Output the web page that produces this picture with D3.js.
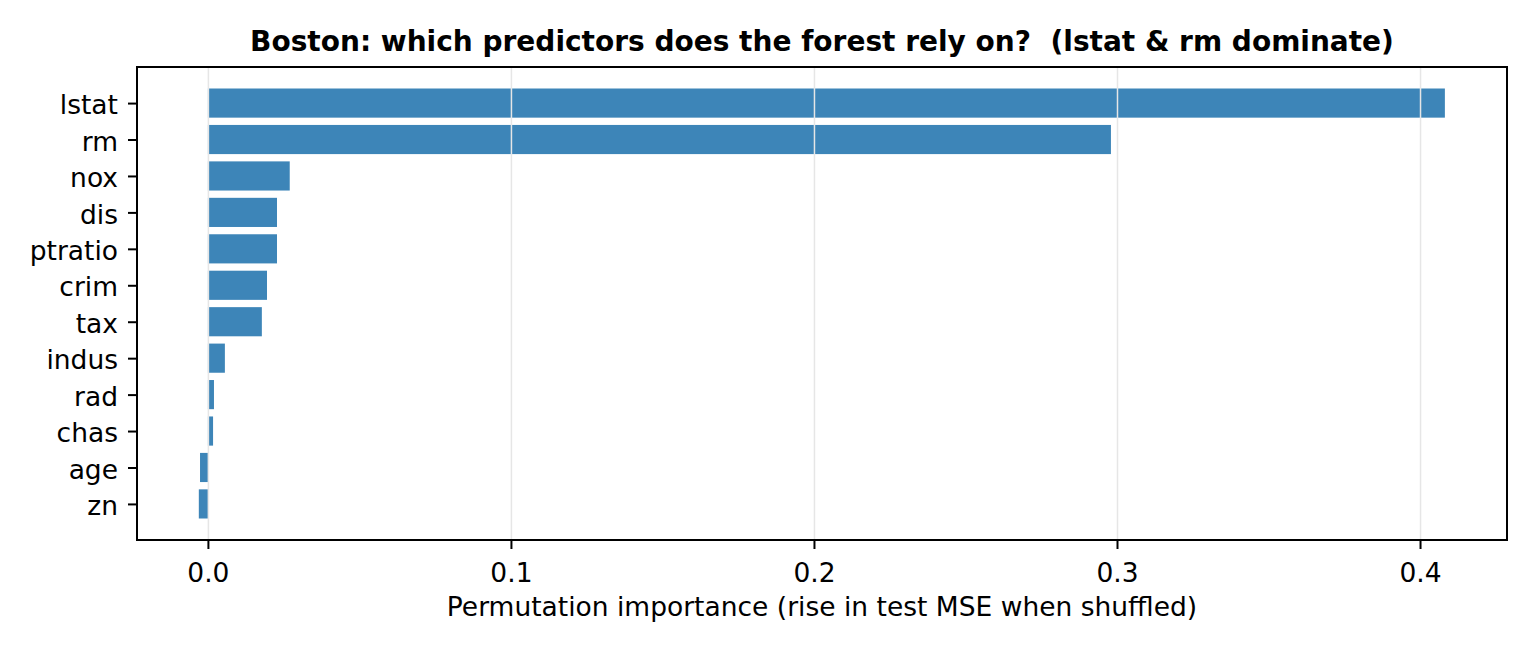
<!DOCTYPE html>
<html>
<head>
<meta charset="utf-8">
<script src="https://cdn.jsdelivr.net/npm/d3@7"></script>
<style>
  body { margin: 0; background: #fff; }
  text { font-family: "DejaVu Sans", sans-serif; fill: #000; }
</style>
</head>
<body>
<div id="chart"></div>
<script>
// predictors, bottom to top
const features = ["zn", "age", "chas", "rad", "indus", "tax", "crim", "ptratio", "dis", "nox", "rm", "lstat"];
const importance = [-0.0030, -0.0026, 0.0017, 0.0020, 0.0056, 0.0178, 0.0195, 0.0228, 0.0228, 0.0270, 0.2980, 0.4082];
const xTicks = [0.0, 0.1, 0.2, 0.3, 0.4];

const width = 1536;
const height = 652;
const margin = ({top: 67, right: 29, bottom: 112, left: 137});

const svg = d3.select("#chart")
    .append("svg")
    .attr("width", width)
    .attr("height", height);

const x = d3.scaleLinear()
    .domain([-0.0234, 0.4287])
    .range([margin.left, width - margin.right]);

// matplotlib style margins round the bar positions
const y = d3.scaleLinear()
    .domain([-0.99, features.length - 1 + 0.99])
    .range([height - margin.bottom, margin.top]);

const barH = y(0) - y(0.8);

svg.selectAll("rect.bar")
    .data(importance)
    .join("rect")
    .attr("class", "bar")
    .attr("x", d => x(Math.min(0, d)))
    .attr("width", d => Math.abs(x(d) - x(0)))
    .attr("y", (d, i) => y(i + 0.4))
    .attr("height", barH)
    .attr("fill", "#3d85b8");

// gridlines sit on top of the bars
svg.append("g")
    .attr("transform", `translate(0,${height - margin.bottom})`)
    .call(d3.axisBottom(x)
        .tickValues(xTicks)
        .tickSize(-(height - margin.top - margin.bottom))
        .tickFormat(""))
    .call(g => g.select(".domain").remove())
    .call(g => g.selectAll("line").attr("stroke", "#e6e6e6").attr("stroke-width", 1.5));

// x axis
svg.append("g")
    .attr("transform", `translate(0,${height - margin.bottom})`)
    .call(d3.axisBottom(x)
        .tickValues(xTicks)
        .tickFormat(d3.format(".1f"))
        .tickSize(9)
        .tickPadding(14.5))
    .call(g => g.select(".domain").remove())
    .call(g => g.selectAll("line").attr("stroke-width", 2))
    .call(g => g.selectAll("text").attr("font-size", "26.5px").attr("font-family", "DejaVu Sans"));

// y axis
svg.append("g")
    .attr("transform", `translate(${margin.left},0)`)
    .call(d3.axisLeft(y)
        .tickValues(d3.range(features.length))
        .tickFormat(i => features[i])
        .tickSize(9)
        .tickPadding(10))
    .call(g => g.select(".domain").remove())
    .call(g => g.selectAll("line").attr("stroke-width", 2))
    .call(g => g.selectAll("text")
        .attr("font-size", "26.5px")
        .attr("font-family", "DejaVu Sans")
        .attr("dy", "0.4em"));

// frame
svg.append("rect")
    .attr("x", margin.left)
    .attr("y", margin.top)
    .attr("width", width - margin.left - margin.right)
    .attr("height", height - margin.top - margin.bottom)
    .attr("fill", "none")
    .attr("stroke", "#000")
    .attr("stroke-width", 2);

svg.append("text")
    .attr("x", (margin.left + width - margin.right) / 2)
    .attr("y", 51)
    .attr("text-anchor", "middle")
    .attr("font-size", "28px")
    .attr("font-weight", "bold")
    .text("Boston: which predictors does the forest rely on?\u00a0\u00a0(lstat & rm dominate)");

svg.append("text")
    .attr("x", (margin.left + width - margin.right) / 2)
    .attr("y", 616)
    .attr("text-anchor", "middle")
    .attr("font-size", "26.5px")
    .text("Permutation importance (rise in test MSE when shuffled)");
</script>
</body>
</html>
